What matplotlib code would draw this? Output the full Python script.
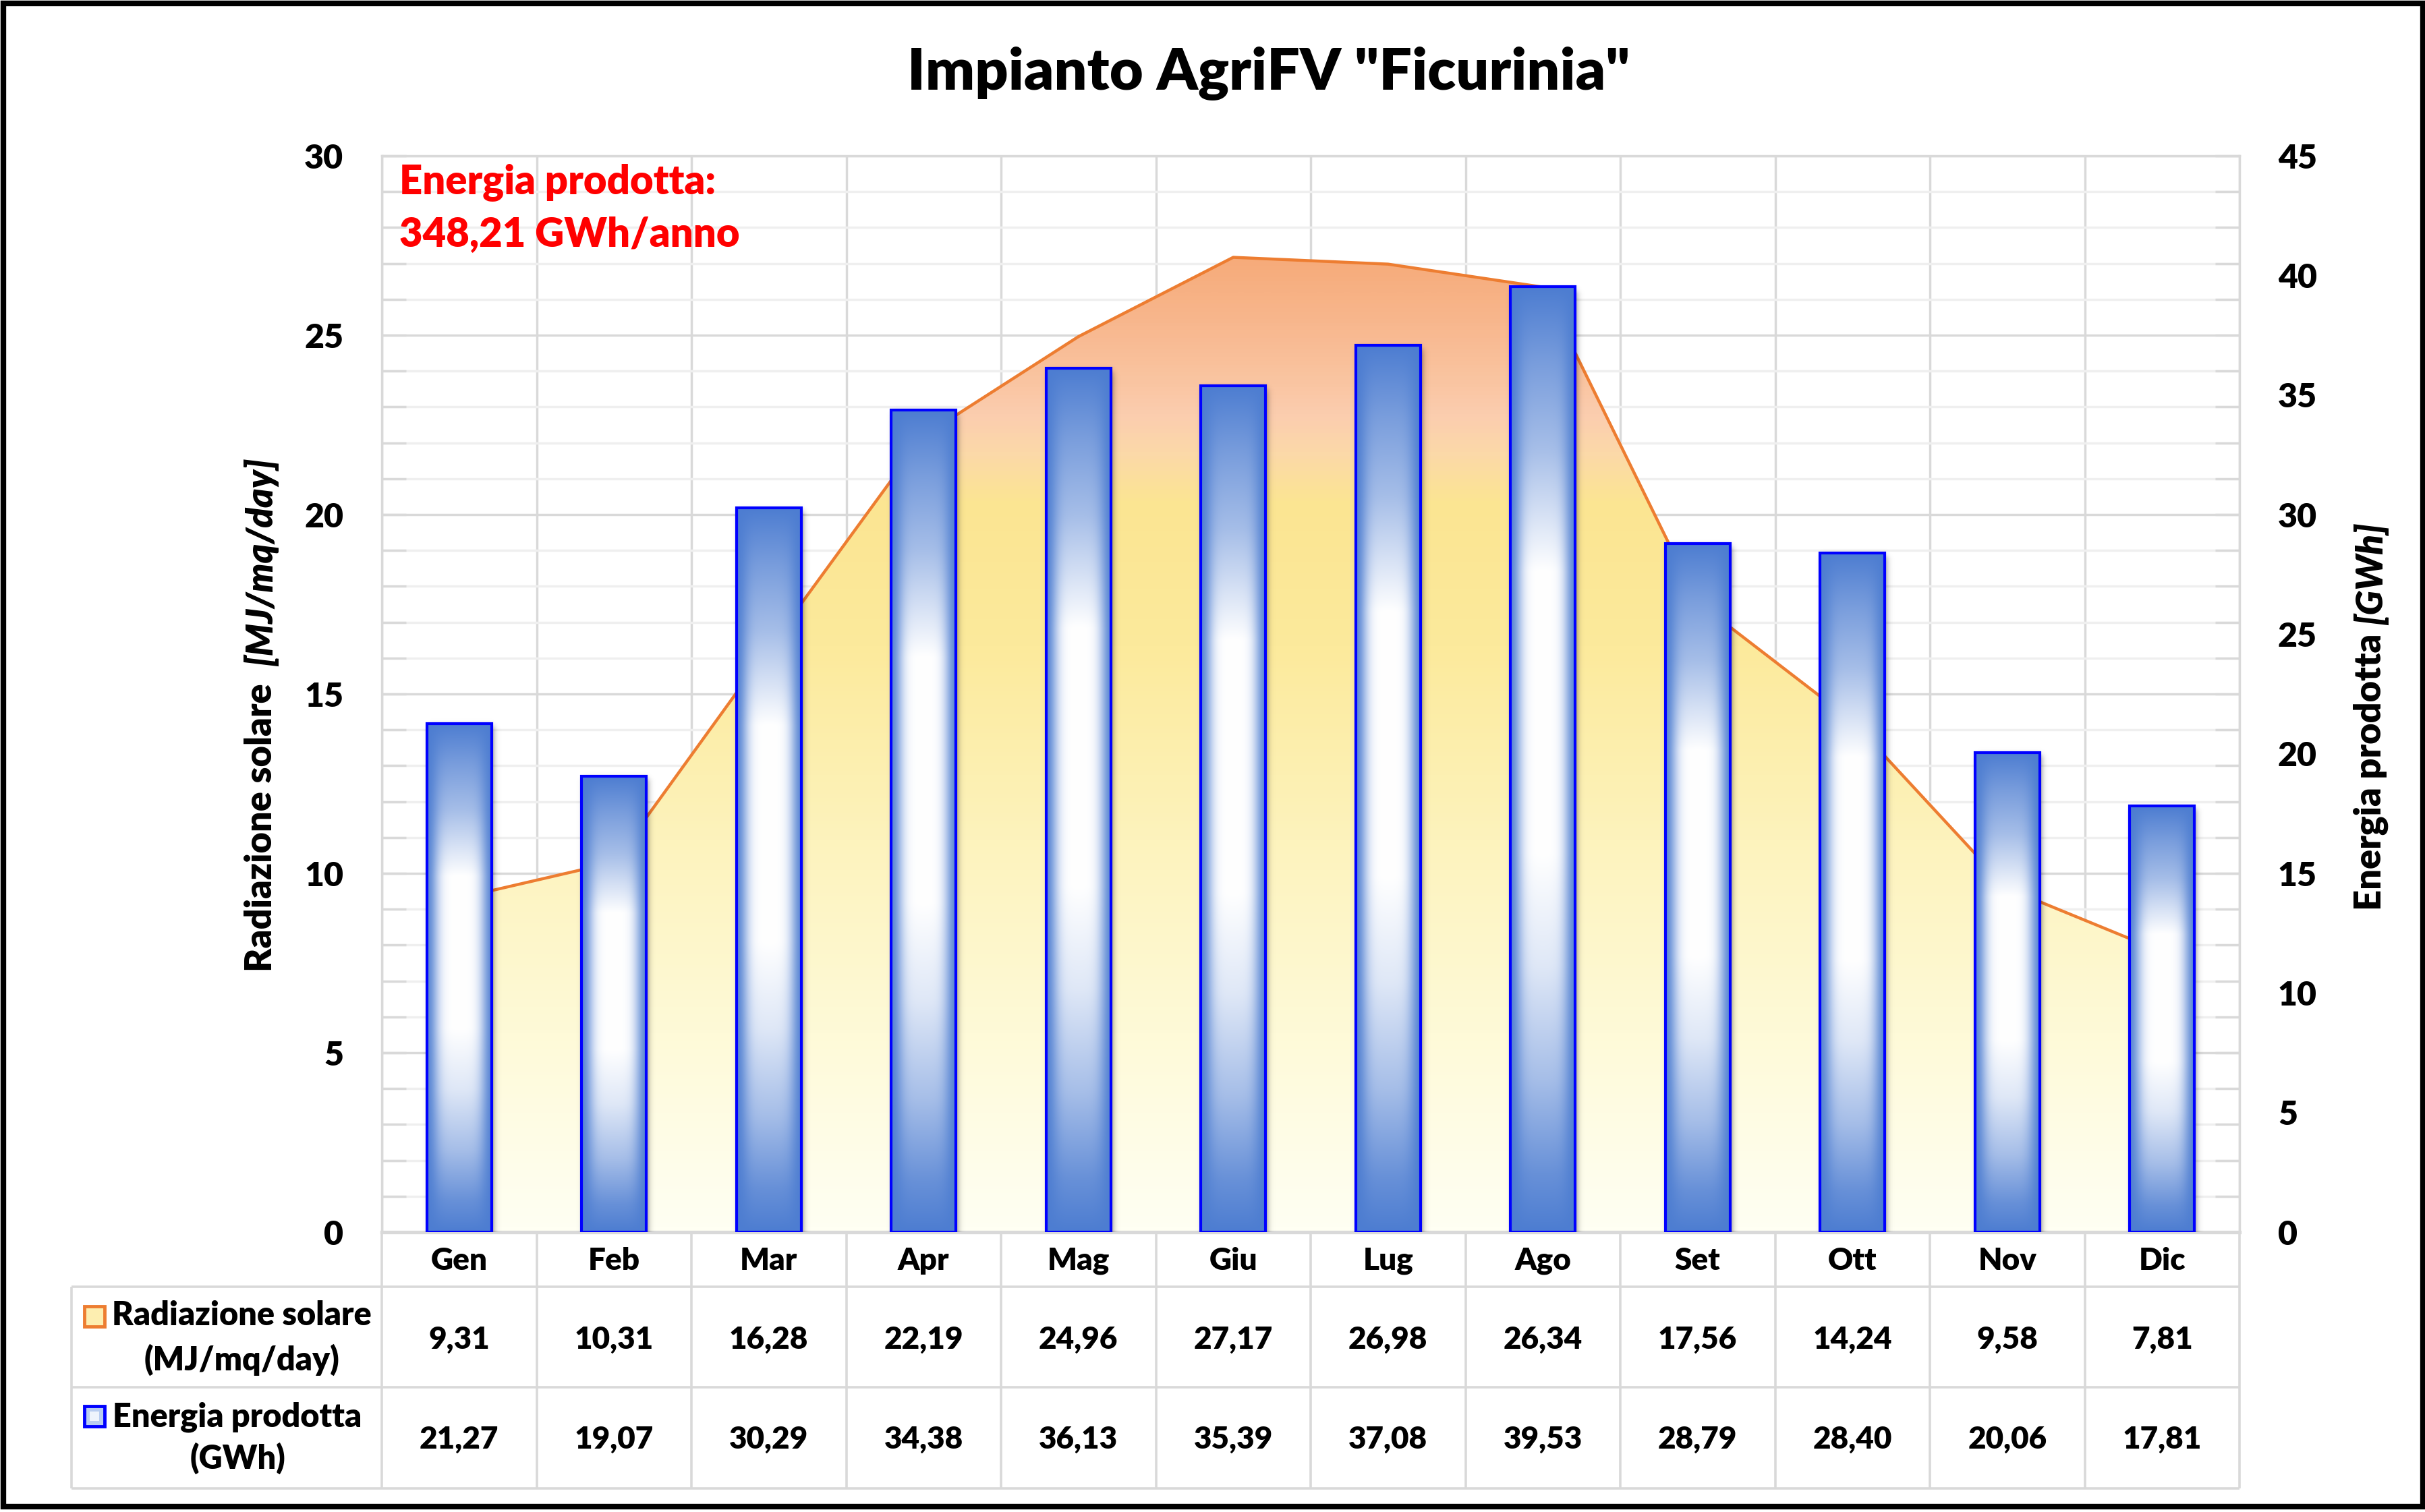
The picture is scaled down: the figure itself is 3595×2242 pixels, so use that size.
import numpy as np
import matplotlib
matplotlib.use("Agg")
import matplotlib.pyplot as plt
from matplotlib.patches import Rectangle
from matplotlib.colors import LinearSegmentedColormap, to_rgb
from matplotlib.transforms import blended_transform_factory

plt.rcParams["font.family"] = ["Lato", "DejaVu Sans"]
plt.rcParams["font.weight"] = "heavy"

# dati
mesi = ["Gen", "Feb", "Mar", "Apr", "Mag", "Giu", "Lug", "Ago", "Set", "Ott", "Nov", "Dic"]
radiazione = [9.31, 10.31, 16.28, 22.19, 24.96, 27.17, 26.98, 26.34, 17.56, 14.24, 9.58, 7.81]
energia = [21.27, 19.07, 30.29, 34.38, 36.13, 35.39, 37.08, 39.53, 28.79, 28.40, 20.06, 17.81]
titolo = 'Impianto AgriFV "Ficurinia"'
nota = ["Energia prodotta:", "348,21 GWh/anno"]
serie_rad = ["Radiazione solare", "(MJ/mq/day)"]
serie_en = ["Energia prodotta", "(GWh)"]


def fmt(v):
    return f"{v:.2f}".replace(".", ",")


W, H = 3595, 2242
fig = plt.figure(figsize=(W / 100, H / 100), dpi=100)

# area del grafico (in pixel)
L, R, T, B = 566, 3320, 231, 1827
ax = fig.add_axes([L / W, 1 - B / H, (R - L) / W, (B - T) / H])
ax2 = ax.twinx()

GRID = "#d9d9d9"
x = np.arange(len(mesi))

# griglia
ax.set_axisbelow(True)
ax.set_yticks(np.arange(0, 31, 5))
ax.set_yticks(np.arange(0, 31, 1), minor=True)
ax.yaxis.grid(True, which="major", color=GRID, lw=2.5)
ax.yaxis.grid(True, which="minor", color="#efefef", lw=2.5)
ax.set_xticks([])
ax.set_xticks(np.arange(-0.5, len(mesi), 1), minor=True)
ax.xaxis.grid(True, which="minor", color=GRID, lw=2.5)
ax.tick_params(axis="x", which="both", length=0, labelbottom=False)
ax.yaxis.set_ticks_position("both")
ax.tick_params(axis="y", which="both", direction="in", length=26, width=2.5,
               color=GRID, labelsize=36, pad=41, labelright=False)
for s in ["left", "right", "top"]:
    ax.spines[s].set_color(GRID)
    ax.spines[s].set_linewidth(2.5)
ax.spines["bottom"].set_color(GRID)
ax.spines["bottom"].set_linewidth(3.8)
for s in ax2.spines.values():
    s.set_visible(False)
ax2.set_yticks(np.arange(0, 46, 5))
ax2.tick_params(axis="y", length=0, labelsize=36, pad=41)

# area radiazione con sfumatura
fill = ax.fill_between(x, radiazione, 0, facecolor="none", edgecolor="none")
cmap_area = LinearSegmentedColormap.from_list("area", [
    (0.0, "#fffff3"), (0.2, "#fefad8"), (0.4, "#fdf3bd"), (0.6, "#fcea9c"),
    (0.75, "#fbe592"), (0.80, "#fbd9a8"), (0.84, "#fbcdaf"), (0.87, "#fac6a3"),
    (0.93, "#f8b88f"), (1.0, "#f6ab7a")])
grad = np.linspace(1, 0, 400)[:, None]
im = ax.imshow(grad, cmap=cmap_area, extent=(x[0], x[-1], 0, max(radiazione)),
               aspect="auto", origin="upper", zorder=1, interpolation="bilinear")
im.set_clip_path(fill.get_paths()[0], ax.transData)
ax.plot(x, radiazione, color="#ed7d31", lw=3.2, zorder=2, solid_joinstyle="round")

# barre energia con sfumatura
BLU = np.array(to_rgb("#4d7dd1"))
bw = 0.42


def bar_image(nx=80, ny=300):
    t = np.linspace(0, 1, ny)
    a_v = np.interp(t, [0, 0.08, 0.17, 0.3, 0.6, 0.72, 0.84, 0.94, 1.0],
                    [1.0, 0.75, 0.5, 0.0, 0.0, 0.18, 0.5, 0.85, 1.0])
    s = np.linspace(0, 1, nx)
    d = np.minimum(s, 1 - s)
    a_h = 0.9 * np.exp(-(d / 0.17) ** 2)
    a = 1 - (1 - a_v[:, None]) * (1 - a_h[None, :])
    return (1 - a[..., None]) + a[..., None] * BLU


def soft_box(u, lo, hi, s):
    return 0.5 * (np.tanh((u - lo) / s) - np.tanh((u - hi) / s))


px_x = len(mesi) / (R - L)
px_y = 45 / (B - T)
bimg = bar_image()
for xi, v in zip(x, energia):
    lo, hi = xi - bw / 2, xi + bw / 2
    # ombra
    sx, sy = 5 * px_x, 5 * px_y
    ox, oy = 3 * px_x, -3 * px_y
    xs = np.linspace(lo - 14 * px_x, hi + 14 * px_x, 120)
    ys = np.linspace(0, v + 14 * px_y, 200)
    a = 0.4 * soft_box(xs[None, :], lo + ox, hi + ox, sx) * soft_box(ys[:, None], -50, v + oy, sy)
    rgba = np.zeros((len(ys), len(xs), 4))
    rgba[..., 3] = a
    ax2.imshow(rgba, extent=(xs[0], xs[-1], 0, ys[-1]), origin="lower",
               aspect="auto", zorder=2.5, interpolation="bilinear")
    ax2.imshow(bimg, extent=(lo, hi, 0, v), origin="upper", aspect="auto",
               zorder=3, interpolation="bilinear")
ax2.bar(x, energia, width=bw, facecolor="none", edgecolor="#0000ff", lw=3.0, zorder=4)
ax.set_xlim(-0.5, len(mesi) - 0.5)
ax.set_ylim(0, 30)
ax2.set_xlim(-0.5, len(mesi) - 0.5)
ax2.set_ylim(0, 45)

# livello in pixel per testi e tabella
lay = fig.add_axes([0, 0, 1, 1], zorder=5)
lay.set_xlim(0, W)
lay.set_ylim(H, 0)
lay.axis("off")
lay.patch.set_visible(False)

lay.text(1881, 133, titolo, ha="center", va="baseline", fontsize=62)
lay.text(592, 287, nota[0], color="#ff0000", fontsize=43, va="baseline")
lay.text(592, 365, nota[1], color="#ff0000", fontsize=43, va="baseline")

# etichette assi
t1 = lay.text(387, 1441, "Radiazione solare  ", rotation=90, ha="center", va="bottom", fontsize=39)
lay.annotate("[MJ/mq/day]", xy=(0.5, 1), xycoords=t1, rotation=90, ha="center",
             va="bottom", fontsize=39, style="italic")
t2 = lay.text(3515, 1350, "Energia prodotta ", rotation=90, ha="center", va="bottom", fontsize=39)
lay.annotate("[GWh]", xy=(0.5, 1), xycoords=t2, rotation=90, ha="center",
             va="bottom", fontsize=39, style="italic")

# tabella dati
bt = blended_transform_factory(ax.transData, lay.transData)
ROWS = [1908, 2057, 2207]
lay.hlines(ROWS, 106, R, color=GRID, lw=2.6)
lay.vlines(106, ROWS[0], ROWS[-1], color=GRID, lw=2.6)
for b in np.arange(-0.5, len(mesi), 1):
    lay.plot([b, b], [B, ROWS[-1]], transform=bt, color=GRID, lw=2.6,
             solid_capstyle="butt", clip_on=False)
for xi, m, r, e in zip(x, mesi, radiazione, energia):
    lay.text(xi, 1883, m, transform=bt, ha="center", va="baseline", fontsize=33)
    lay.text(xi, 2000, fmt(r), transform=bt, ha="center", va="baseline", fontsize=33)
    lay.text(xi, 2148, fmt(e), transform=bt, ha="center", va="baseline", fontsize=33)

# legenda nella tabella
lay.add_patch(Rectangle((125, 1937), 30, 30, facecolor="#fdeeb0", edgecolor="#ed7d31", lw=3.5))
lay.add_patch(Rectangle((125, 2085), 30, 30, facecolor="#b9cdf0", edgecolor="#0000ff", lw=3.5))
lay.add_patch(Rectangle((133, 2093), 14, 14, facecolor="#eef3fc", edgecolor="none"))
lay.text(358, 1965, serie_rad[0], ha="center", va="baseline", fontsize=35)
lay.text(358, 2032, serie_rad[1], ha="center", va="baseline", fontsize=35)
lay.text(352, 2115, serie_en[0], ha="center", va="baseline", fontsize=35)
lay.text(352, 2178, serie_en[1], ha="center", va="baseline", fontsize=35)

# cornice esterna
lay.add_patch(Rectangle((5, 5), 3587, 2229, fill=False, edgecolor="black", lw=6))

fig.savefig("out.png", dpi=100, facecolor="white")
